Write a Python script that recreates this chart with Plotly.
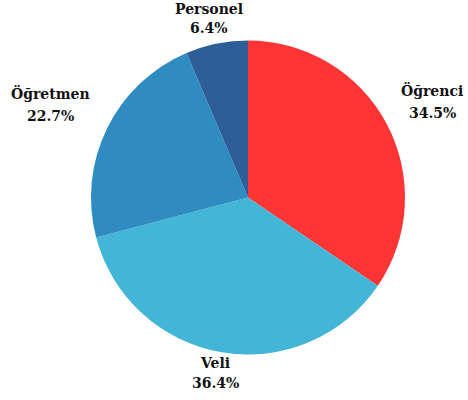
import plotly.graph_objects as go

labels = ["Öğrenci", "Veli", "Öğretmen", "Personel"]
values = [34.5, 36.4, 22.7, 6.4]
colors = ["#FF3434", "#43B6D7", "#2E8CC0", "#2D5E99"]

W, H = 468, 400
# label placement in pixels from top-left (layout only)
label_px = [432, 215, 50, 209]
name_py = [90, 363, 93, 9]
value_py = [113, 383, 116, 28]

fig = go.Figure(go.Pie(
    labels=labels,
    values=values,
    sort=False,
    direction="clockwise",
    rotation=0,
    marker=dict(colors=colors, line=dict(width=0)),
    textinfo="none",
    automargin=False,
    showlegend=False,
    hoverinfo="label+value",
    domain=dict(x=[0.1944, 0.8654], y=[0.11375, 0.89875]),
))

for lab, val, px, py1, py2 in zip(labels, values, label_px, name_py, value_py):
    for txt, py in ((lab, py1), (f"{val:.1f}%", py2)):
        fig.add_annotation(
            x=px / W, y=1 - py / H, xref="paper", yref="paper",
            xanchor="center", yanchor="middle",
            text=f"<b>{txt}</b>",
            showarrow=False, align="center",
            font=dict(family="DejaVu Serif", size=14, color="#111111"),
        )

fig.update_layout(
    width=W, height=H,
    margin=dict(l=0, r=0, t=0, b=0),
    paper_bgcolor="white", plot_bgcolor="white",
)

fig.write_html(
    "out.html",
    config={"displayModeBar": False},
    post_script="document.body.style.margin='0';",
)
